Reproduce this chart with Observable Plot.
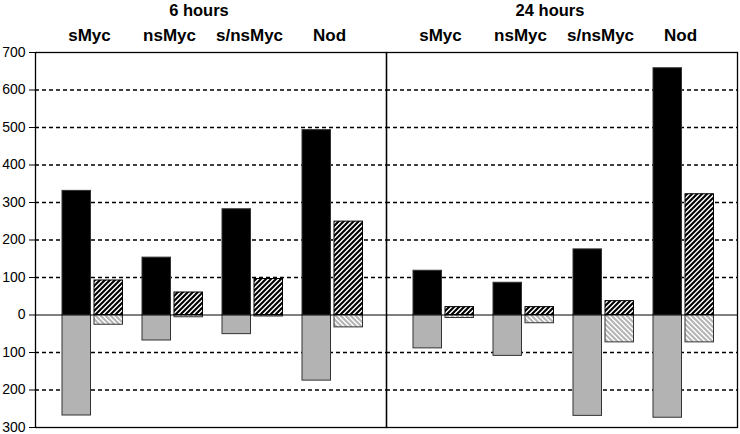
<!DOCTYPE html>
<html>
<head>
<meta charset="utf-8">
<script src="https://cdn.jsdelivr.net/npm/d3@7"></script>
<script src="https://cdn.jsdelivr.net/npm/@observablehq/plot@0.6"></script>
<style>
  html, body { margin: 0; padding: 0; background: #fff; }
  #chart svg { display: block; }
</style>
</head>
<body>
<div id="chart"></div>
<script>
// ---- data ----
const times = ["6 hours", "24 hours"];
const categories = ["sMyc", "nsMyc", "s/nsMyc", "Nod"];
// values listed 6 hours (sMyc, nsMyc, s/nsMyc, Nod), then 24 hours (same order)
const solidUp   = [331, 153, 282, 493, 118, 86, 175, 658];
const solidDown = [-268, -68, -51, -175, -89, -109, -269, -274];
const hatchUp   = [92, 60, 96, 249, 21, 21, 37, 322];
const hatchDown = [-26, -6, -4, -33, -8, -22, -73, -73];
const yTicks = [-300, -200, -100, 0, 100, 200, 300, 400, 500, 600, 700];
const gridLines = [-200, -100, 100, 200, 300, 400, 500, 600];

const rows = times.flatMap((t, i) => categories.map((c, j) => ({
  time: t, cat: c,
  solidUp: solidUp[i * 4 + j], solidDown: solidDown[i * 4 + j],
  hatchUp: hatchUp[i * 4 + j], hatchDown: hatchDown[i * 4 + j]
})));

const leftBar = {insetLeft: 10, insetRight: 41.5};
const rightBar = {insetLeft: 42, insetRight: 9.5};

const chart = Plot.plot({
  width: 740,
  height: 434,
  marginLeft: 35,
  marginRight: 3,
  marginTop: 52,
  marginBottom: 7,
  style: {fontFamily: "'Liberation Sans', Arial, sans-serif", fontSize: "14px", color: "#000", background: "#fff"},
  fx: {domain: times, padding: 0},
  x: {domain: categories, padding: 0, insetLeft: 17, insetRight: 14},
  y: {domain: [-300, 700]},
  marks: [
    Plot.ruleY(gridLines, {y: d => d, stroke: "#000", strokeWidth: 1.3, strokeDasharray: "4,3"}),
    Plot.barY(rows, {fx: "time", x: "cat", y1: 0, y2: "solidDown", fill: "#b3b3b3", stroke: "#333", strokeWidth: 1, ...leftBar}),
    Plot.barY(rows, {fx: "time", x: "cat", y1: 0, y2: "solidUp", fill: "#000", stroke: "#333", strokeWidth: 1, ...leftBar}),
    Plot.barY(rows, {fx: "time", x: "cat", y1: 0, y2: "hatchDown", fill: "url(#hatchLight)", stroke: "#333", strokeWidth: 1, ...rightBar}),
    Plot.barY(rows, {fx: "time", x: "cat", y1: 0, y2: "hatchUp", fill: "url(#hatchDark)", stroke: "#000", strokeWidth: 1, ...rightBar}),
    Plot.ruleY([0], {stroke: "#000", strokeWidth: 1}),
    Plot.frame({stroke: "#000", strokeWidth: 1.3}),
    Plot.axisY({ticks: yTicks, tickFormat: d => Math.abs(d), tickSize: 6, tickPadding: 4, label: null, fontSize: 14}),
    Plot.axisX({anchor: "top", tickSize: 0, tickPadding: 12, label: null, fontSize: 17, fontWeight: "bold", dx: -3}),
    Plot.axisFx({anchor: "top", tickSize: 0, tickPadding: 37, label: null, fontSize: 16.5, fontWeight: "bold", dx: -12})
  ]
});

// hatch patterns
const svg = chart.tagName.toLowerCase() === "svg" ? chart : chart.querySelector("svg");
const defs = d3.select(svg).insert("defs", ":first-child");
const P = 5;
const dark = defs.append("pattern").attr("id", "hatchDark").attr("patternUnits", "userSpaceOnUse")
  .attr("width", P).attr("height", P);
dark.append("rect").attr("width", P).attr("height", P).attr("fill", "#fff");
dark.append("path").attr("d", `M-1,1 L1,-1 M0,${P} L${P},0 M${P - 1},${P + 1} L${P + 1},${P - 1}`)
  .attr("stroke", "#000").attr("stroke-width", 2.1);
const light = defs.append("pattern").attr("id", "hatchLight").attr("patternUnits", "userSpaceOnUse")
  .attr("width", P).attr("height", P);
light.append("rect").attr("width", P).attr("height", P).attr("fill", "#fff");
light.append("path").attr("d", `M-1,${P - 1} L1,${P + 1} M0,0 L${P},${P} M${P - 1},-1 L${P + 1},1`)
  .attr("stroke", "#b5b5b5").attr("stroke-width", 2.1);

document.getElementById("chart").appendChild(chart);
</script>
</body>
</html>
